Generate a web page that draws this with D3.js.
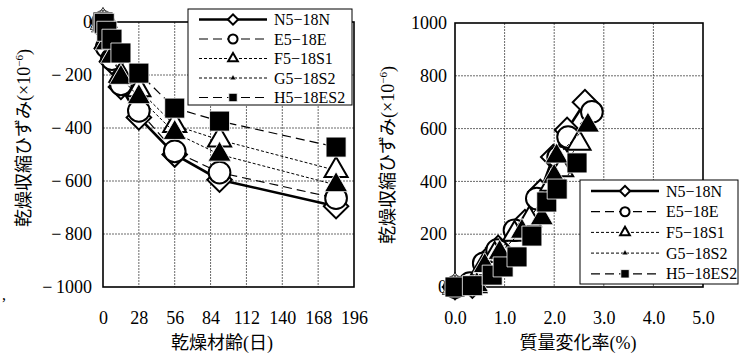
<!DOCTYPE html>
<html>
<head>
<meta charset="utf-8">
<script src="https://cdn.jsdelivr.net/npm/d3@7"></script>
<style>
body { margin: 0; background: #fff; }
</style>
</head>
<body>
<svg id="chart" width="749" height="356"></svg>
<script>
var serifFont = "'Liberation Serif'";
var jpFont = "'Liberation Serif', 'Noto Sans CJK JP'";

// series names, drawn in this order
var names = ["N5-18N", "E5-18E", "F5-18S1", "G5-18S2", "H5-18ES2"];

// left chart: drying age (days) vs drying shrinkage strain
var days = [0, 1, 3, 7, 14, 28, 56, 91, 182];
var shrinkN = [0, -20, -100, -150, -245, -360, -500, -595, -695];
var shrinkE = [0, -15, -95, -140, -235, -335, -488, -568, -665];
var shrinkF = [0, -10, -70, -120, -200, -255, -390, -445, -560];
var shrinkG = [0, -10, -80, -130, -210, -283, -418, -500, -615];
var shrinkH = [0, -5, -35, -65, -117, -193, -325, -374, -472];

// right chart: mass change (%) vs drying shrinkage strain
var massN = [0, 0.35, 0.64, 0.87, 1.41, 1.72, 1.98, 2.26, 2.62];
var strainN = [0, 5, 102, 148, 246, 360, 492, 595, 700];
var massE = [0, 0.30, 0.58, 0.85, 1.20, 1.65, 2.08, 2.28, 2.76];
var strainE = [0, 15, 90, 140, 215, 335, 492, 568, 663];
var massF = [0, 0.40, 0.55, 0.80, 1.20, 1.50, 1.95, 2.15, 2.50];
var strainF = [0, 5, 70, 120, 200, 255, 390, 445, 545];
var massG = [0, 0.44, 0.60, 0.90, 1.35, 1.75, 2.00, 2.05, 2.68];
var strainG = [0, 8, 80, 130, 210, 261, 418, 495, 612];
var massH = [0, 0.35, 0.75, 0.97, 1.25, 1.55, 1.85, 2.06, 2.46];
var strainH = [0, 5, 45, 76, 114, 193, 322, 371, 470];

var dayTicks = [0, 28, 56, 84, 112, 140, 168, 196];
var leftYTicks = [0, -200, -400, -600, -800, -1000];
var massTicks = [0, 1, 2, 3, 4, 5];
var rightYTicks = [0, 200, 400, 600, 800, 1000];

// look of each series (same order as names)
var styles = [
  { sym: "diamond", fill: "#fff", dash: null, width: 2.6 },
  { sym: "circle", fill: "#fff", dash: "9,5", width: 1.2 },
  { sym: "triangle", fill: "#fff", dash: "3,2", width: 1 },
  { sym: "triangle", fill: "#000", dash: "3,2", width: 1 },
  { sym: "square", fill: "#000", dash: "9,5", width: 1.2 }
];

var svg = d3.select("#chart");

function markerPath(sym, big) {
  var s = big ? 1 : 0.42;
  if (sym == "diamond") return d3.symbol(d3.symbolSquare, 300 * s * s)();
  if (sym == "circle") return d3.symbol(d3.symbolCircle, 370 * s * s)();
  if (sym == "triangle") return d3.symbol(d3.symbolTriangle, 230 * s * s)();
  return d3.symbol(d3.symbolSquare, 400 * s * s)();
}

function drawMarker(g, st, x, y, big, small) {
  var p = g.append("path")
    .attr("d", markerPath(st.sym, big))
    .attr("transform", "translate(" + x + "," + y + ")" + (st.sym == "diamond" ? " rotate(45)" : ""))
    .attr("fill", st.fill)
    .attr("stroke", st.fill == "#000" ? "#fff" : "#000")
    .attr("stroke-width", st.fill == "#000" ? 0.8 : 2);
  if (small) p.attr("transform", "translate(" + x + "," + y + ") scale(0.6)");
}

function drawPanel(opt) {
  var x = d3.scaleLinear().domain(opt.xDomain).range([opt.left, opt.right]);
  var y = d3.scaleLinear().domain(opt.yDomain).range([opt.bottom, opt.top]);
  var g = svg.append("g");

  // grid
  g.selectAll(".vg").data(opt.xTicks.slice(1, -1)).enter().append("line")
    .attr("x1", function (d) { return x(d); }).attr("x2", function (d) { return x(d); })
    .attr("y1", opt.top).attr("y2", opt.bottom)
    .attr("stroke", "#444").attr("stroke-width", 0.8).attr("stroke-dasharray", "2,1");
  g.selectAll(".hg").data(opt.yTicks.slice(1, -1)).enter().append("line")
    .attr("y1", function (d) { return y(d); }).attr("y2", function (d) { return y(d); })
    .attr("x1", opt.left).attr("x2", opt.right)
    .attr("stroke", "#444").attr("stroke-width", 0.8).attr("stroke-dasharray", "2,1");

  g.append("rect")
    .attr("x", opt.left).attr("y", opt.top)
    .attr("width", opt.right - opt.left).attr("height", opt.bottom - opt.top)
    .attr("fill", "none").attr("stroke", "#000").attr("stroke-width", 1.6);

  // tick labels
  var xAxis = d3.axisBottom(x).tickValues(opt.xTicks).tickSize(0).tickPadding(0).tickFormat(opt.xFormat);
  var xg = g.append("g").attr("transform", "translate(0," + opt.tickY + ")").call(xAxis);
  xg.select(".domain").remove();
  xg.selectAll("text").attr("font-size", 18).attr("dy", "0.35em").attr("fill", "#000")
    .attr("font-family", serifFont);

  var yAxis = d3.axisLeft(y).tickValues(opt.yTicks).tickSize(0).tickPadding(opt.yPad)
    .tickFormat(function (d) { return d < 0 ? "\u2212\u2009" + (-d) : d; });
  var yg = g.append("g").attr("transform", "translate(" + opt.left + ",0)").call(yAxis);
  yg.select(".domain").remove();
  yg.selectAll("text").attr("font-size", 18).attr("fill", "#000")
    .attr("font-family", serifFont);

  // series
  var line = d3.line().x(function (d) { return x(d[0]); }).y(function (d) { return y(d[1]); });
  opt.series.forEach(function (s, i) {
    var st = styles[i];
    var pts = s.xs.map(function (v, k) { return [v, s.ys[k]]; });
    g.append("path").attr("d", line(pts)).attr("fill", "none")
      .attr("stroke", "#000").attr("stroke-width", st.width)
      .attr("stroke-dasharray", st.dash);
    pts.forEach(function (p) {
      drawMarker(g, st, x(p[0]), y(p[1]), true, false);
    });
  });

  // axis titles
  g.append("text").attr("x", opt.xTitleX).attr("y", opt.xTitleY)
    .attr("font-family", jpFont)
    .attr("text-anchor", "middle").attr("font-size", 18).text(opt.xTitle);
  var yt = g.append("text")
    .attr("transform", "translate(" + opt.yTitleX + "," + opt.yTitleY + ") rotate(-90)")
    .attr("font-family", jpFont)
    .attr("text-anchor", "middle").attr("dy", "0.35em").attr("font-size", 18);
  yt.append("tspan").text("乾燥収縮ひずみ(×10");
  yt.append("tspan").attr("font-size", 11).attr("dy", "-7").text("\u22126");
  yt.append("tspan").attr("dy", "7").text(")");

  // legend
  var L = opt.legend;
  var lg = g.append("g");
  lg.append("rect").attr("x", L.x).attr("y", L.y).attr("width", L.w).attr("height", L.h)
    .attr("fill", "#fff").attr("stroke", "#000").attr("stroke-width", 1);
  names.forEach(function (n, i) {
    var st = styles[i];
    var ry = L.y + L.first + i * L.step;
    lg.append("line").attr("x1", L.x + 11).attr("x2", L.x + 79).attr("y1", ry).attr("y2", ry)
      .attr("stroke", "#000").attr("stroke-width", st.width)
      .attr("stroke-dasharray", st.dash);
    drawMarker(lg, st, L.x + 45, ry, false, i == 3);
    lg.append("text").attr("x", L.x + 86).attr("y", ry).attr("dy", "0.35em")
      .attr("font-family", serifFont)
      .attr("font-size", 16).text(n.replace("-", "\u2212"));
  });
}

drawPanel({
  left: 103, right: 354, top: 22, bottom: 287,
  xDomain: [0, 196], yDomain: [-1000, 0],
  xTicks: dayTicks, yTicks: leftYTicks, yPad: 11, tickY: 318,
  xFormat: function (d) { return d; },
  series: [
    { xs: days, ys: shrinkN }, { xs: days, ys: shrinkE }, { xs: days, ys: shrinkF },
    { xs: days, ys: shrinkG }, { xs: days, ys: shrinkH }
  ],
  xTitle: "乾燥材齢(日)", xTitleX: 222, xTitleY: 349,
  yTitleX: 24, yTitleY: 138,
  legend: { x: 188, y: 9, w: 164, h: 96, first: 10.5, step: 19.5 }
});

drawPanel({
  left: 455, right: 703, top: 23, bottom: 287,
  xDomain: [0, 5], yDomain: [0, 1000],
  xTicks: massTicks, yTicks: rightYTicks, yPad: 8, tickY: 318,
  xFormat: d3.format(".1f"),
  series: [
    { xs: massN, ys: strainN }, { xs: massE, ys: strainE }, { xs: massF, ys: strainF },
    { xs: massG, ys: strainG }, { xs: massH, ys: strainH }
  ],
  xTitle: "質量変化率(%)", xTitleX: 578, xTitleY: 349,
  yTitleX: 388, yTitleY: 155,
  legend: { x: 580, y: 180, w: 158, h: 104, first: 11, step: 20.7 }
});

svg.append("text").attr("x", 2).attr("y", 300).attr("font-size", 16)
  .attr("font-family", serifFont).text(",");
</script>
</body>
</html>
